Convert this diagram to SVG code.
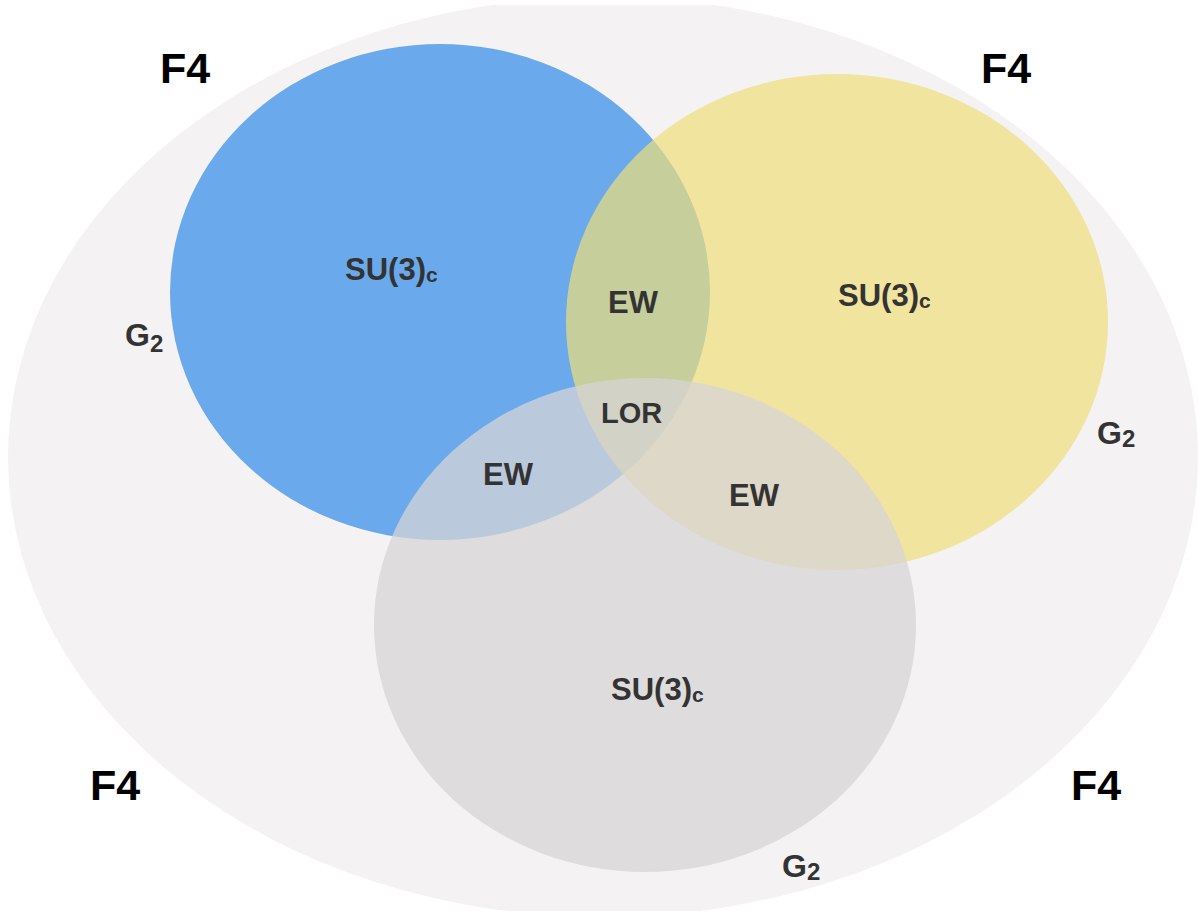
<svg xmlns="http://www.w3.org/2000/svg" width="1198" height="911" viewBox="0 0 1198 911">
<style>
.lbl{font-family:"Liberation Sans",Arial,sans-serif;font-weight:bold;fill:#333333;font-size:31px}
.f4{font-family:"Liberation Sans",Arial,sans-serif;font-weight:bold;fill:#000000;font-size:43px}
.sub{font-size:21px}
.g{font-family:"Liberation Sans",Arial,sans-serif;font-weight:bold;fill:#333333;font-size:32px}
.gsub{font-size:24px}
</style>
<rect width="1198" height="911" fill="#ffffff"/>
<g id="outer">
<ellipse cx="603" cy="457" rx="595" ry="460" fill="#f4f2f3"/>
<rect x="0" y="0" width="1198" height="5" fill="#ffffff"/>
</g>
<g id="blue">
<ellipse cx="440" cy="292" rx="270" ry="248" fill="#6aaaec"/>
</g>
<g id="yellow">
<ellipse cx="837" cy="322" rx="271" ry="248" fill="#eede7a" fill-opacity="0.7"/>
</g>
<g id="gray">
<ellipse cx="645" cy="625" rx="271" ry="247" fill="#d6d4d5" fill-opacity="0.74"/>
</g>
<g id="connectors"></g>
<g id="labels">
<text class="lbl" x="345" y="280">SU(3)<tspan class="sub" dy="2">c</tspan></text>
<text class="lbl" x="838" y="306">SU(3)<tspan class="sub" dy="2">c</tspan></text>
<text class="lbl" x="611" y="700">SU(3)<tspan class="sub" dy="2">c</tspan></text>
<text class="lbl" x="608" y="313">EW</text>
<text class="lbl" x="483" y="485">EW</text>
<text class="lbl" x="729" y="506">EW</text>
<text class="lbl" x="601" y="423" style="font-size:29px">LOR</text>
<text class="f4" x="160" y="83">F4</text>
<text class="f4" x="981" y="83">F4</text>
<text class="f4" x="90" y="800">F4</text>
<text class="f4" x="1071" y="800">F4</text>
<text class="g" x="125" y="346">G<tspan class="gsub" dy="6">2</tspan></text>
<text class="g" x="1097" y="444">G<tspan class="gsub" dy="3">2</tspan></text>
<text class="g" x="782" y="877">G<tspan class="gsub" dy="3">2</tspan></text>
</g>
</svg>
